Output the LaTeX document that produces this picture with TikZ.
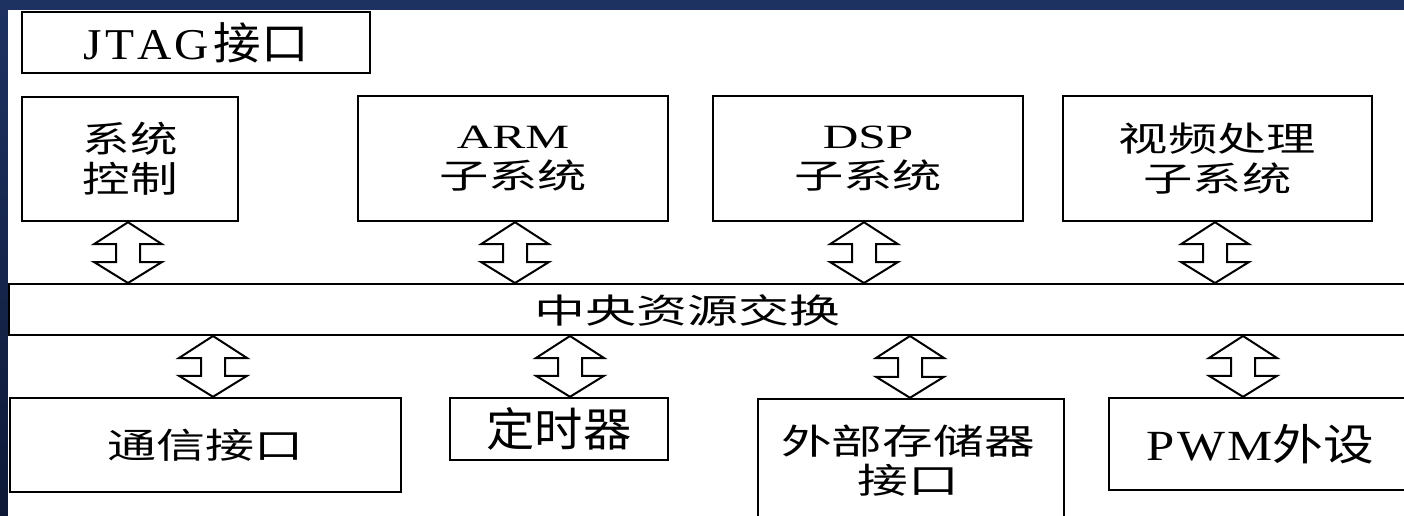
\documentclass[tikz,border=0pt]{standalone}
\usepackage{fontspec}
\setmainfont{Liberation Serif}
\newfontfamily\cjk{Noto Sans CJK SC}
\usetikzlibrary{calc}
\newcommand\hs[2]{\scalebox{#1}[1]{#2}}
\newcommand\fatarrow[2]{%
  \draw[fatarrow] let \p1=(#1), \p2=(#2) in
  (\x1,\y1) -- (\x1+34pt,\y1-22pt) -- (\x1+12pt,\y1-22pt) -- (\x1+12pt,\y2+21pt)
  -- (\x1+34pt,\y2+21pt) -- (\x1,\y2) -- (\x1-34pt,\y2+21pt) -- (\x1-12pt,\y2+21pt)
  -- (\x1-12pt,\y1-22pt) -- (\x1-34pt,\y1-22pt) -- cycle;}
\definecolor{bgtop}{RGB}{30,50,98}
\definecolor{bgbot}{RGB}{14,25,55}
\begin{document}
\begin{tikzpicture}[x=1pt,y=-1pt,
  box/.style={draw=black, line width=2.4pt, fill=white, inner sep=0pt, align=center},
  barbox/.style={draw=black, line width=2pt, fill=white, inner sep=0pt},
  fatarrow/.style={draw=black, line width=2pt, fill=white, line join=miter},
  lbl/.style={inner sep=0pt, align=center}]
\useasboundingbox (0,0) rectangle (1404,516);
\shade[top color=bgtop, bottom color=bgbot] (0,0) rectangle (1404,516);
\fill[white] (8,10.5) rectangle (1404,516);

% top row
\node[box, minimum width=348pt, minimum height=61pt] (jtag) at (196,42.5)
  {\fontsize{44}{48}\selectfont\hs{1.08}{J\kern3pt T\kern3pt A\kern3pt G\kern4pt{\cjk 接口}}};
\node[box, minimum width=216pt, minimum height=124pt, font=\fontsize{36}{40}\selectfont\cjk] (sys) at (130,159)
  {\hs{1.32}{系统}\\\hs{1.32}{控制}};
\node[box, minimum width=310pt, minimum height=125pt, font=\fontsize{34}{40}\selectfont] (arm) at (513,158.5)
  {\hs{1.45}{ARM}\\\hs{1.45}{\cjk 子系统}};
\node[box, minimum width=310pt, minimum height=125pt, font=\fontsize{34}{40}\selectfont] (dsp) at (868,158.5)
  {\hs{1.45}{DSP}\\\hs{1.45}{\cjk 子系统}};
\node[box, minimum width=309pt, minimum height=125pt, font=\fontsize{34}{40}\selectfont\cjk] (vid) at (1217.5,158.5)
  {\hs{1.45}{视频处理}\\\hs{1.45}{子系统}};

% central bar
\node[barbox, minimum width=1403pt, minimum height=51pt] (bar) at (710.5,309.5) {};
\node[lbl, font=\fontsize{34}{40}\selectfont\cjk] (barlabel) at (687,310) {\hs{1.5}{中央资源交换}};

% bottom row
\node[box, minimum width=391pt, minimum height=94pt, font=\fontsize{35}{40}\selectfont\cjk] (com) at (205.5,445)
  {\hs{1.4}{通信接口}};
\node[box, minimum width=218pt, minimum height=62pt, font=\fontsize{46}{50}\selectfont\cjk] (tim) at (559,429)
  {\hs{1.05}{定时器}};
\node[box, minimum width=306pt, minimum height=141pt] (ext) at (911,469.5) {};
\node[lbl, font=\fontsize{35}{39}\selectfont\cjk] (extlabel) at (908,461)
  {\hs{1.45}{外部存储器}\\\hs{1.45}{接口}};
\node[box, minimum width=303pt, minimum height=92pt, font=\fontsize{43}{48}\selectfont] (pwm) at (1260.5,444)
  {\hs{1.18}{P\kern2pt W\kern2pt M{\cjk 外设}}};

% arrow x positions
\coordinate (ax1) at (128,0);
\coordinate (ax2) at (515,0);
\coordinate (ax3) at (864,0);
\coordinate (ax4) at (1215,0);
\coordinate (bx1) at (213,0);
\coordinate (bx2) at (570,0);
\coordinate (bx3) at (910,0);
\coordinate (bx4) at (1243,0);

\fatarrow{ax1 |- sys.south}{ax1 |- bar.north}
\fatarrow{ax2 |- arm.south}{ax2 |- bar.north}
\fatarrow{ax3 |- dsp.south}{ax3 |- bar.north}
\fatarrow{ax4 |- vid.south}{ax4 |- bar.north}
\fatarrow{bx1 |- bar.south}{bx1 |- com.north}
\fatarrow{bx2 |- bar.south}{bx2 |- tim.north}
\fatarrow{bx3 |- bar.south}{bx3 |- ext.north}
\fatarrow{bx4 |- bar.south}{bx4 |- pwm.north}
\end{tikzpicture}
\end{document}
